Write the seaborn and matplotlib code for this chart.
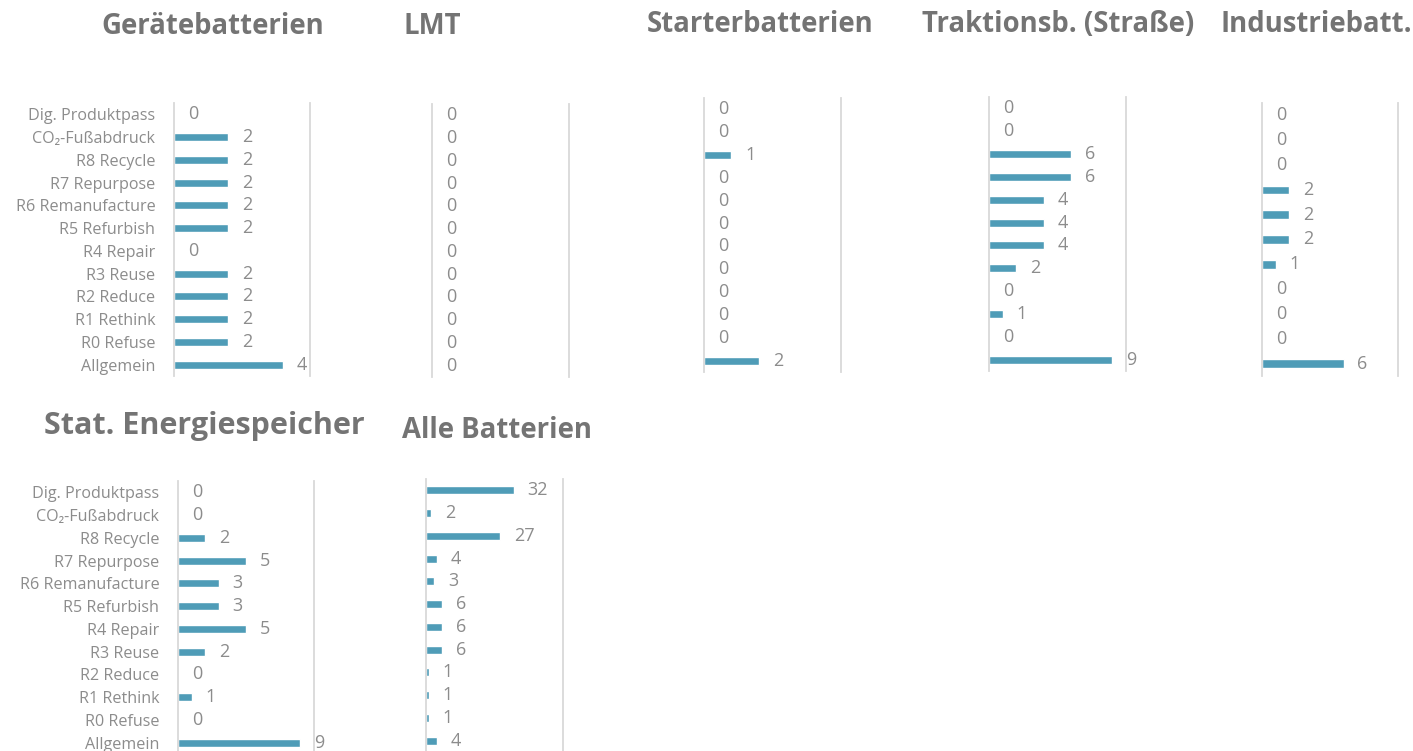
import matplotlib
matplotlib.use("Agg")
import matplotlib.pyplot as plt
import seaborn as sns
import pandas as pd

sns.set_theme(style="white")
plt.rcParams['font.family'] = ['Open Sans', 'DejaVu Sans']

categories = ["Dig. Produktpass", "CO₂-Fußabdruck", "R8 Recycle", "R7 Repurpose",
              "R6 Remanufacture", "R5 Refurbish", "R4 Repair", "R3 Reuse",
              "R2 Reduce", "R1 Rethink", "R0 Refuse", "Allgemein"]
categories_industrie = ["Dig. Produktpass", "R8 Recycle", "R7 Repurpose",
                        "R6 Remanufacture", "R5 Refurbish", "R4 Repair", "R3 Reuse",
                        "R2 Reduce", "R1 Rethink", "R0 Refuse", "Allgemein"]

geraete = [0, 2, 2, 2, 2, 2, 0, 2, 2, 2, 2, 4]
lmt = [0, 0, 0, 0, 0, 0, 0, 0, 0, 0, 0, 0]
starter = [0, 0, 1, 0, 0, 0, 0, 0, 0, 0, 0, 2]
traktion = [0, 0, 6, 6, 4, 4, 4, 2, 0, 1, 0, 9]
industrie = [0, 0, 0, 2, 2, 2, 1, 0, 0, 0, 6]
stationaer = [0, 0, 2, 5, 3, 3, 5, 2, 0, 1, 0, 9]
alle = [32, 2, 27, 4, 3, 6, 6, 6, 1, 1, 1, 4]

titles = ["Gerätebatterien", "LMT", "Starterbatterien", "Traktionsb. (Straße)",
          "Industriebatt.", "Stat. Energiespeicher", "Alle Batterien"]

BAR = "#4F9CB7"
TXT = "#8C8C8C"
TITLE = "#747474"
GRID = "#D9D9D9"

W, H = 1413, 751
fig = plt.figure(figsize=(W / 100, H / 100), dpi=100)

# panel: (values, cats, xmax, show labels, left, right, top, bottom px, title x, title y, title size)
panels = [
    (geraete, categories, 5, True, 174, 310, 103, 376, 213, 27, 19.8),
    (lmt, categories, 1, False, 432, 569, 104, 377, 432, 27, 19.8),
    (starter, categories, 5, False, 704, 841, 98, 372, 760, 24, 19.8),
    (traktion, categories, 10, False, 989, 1126, 97, 371, 1058, 24, 19.8),
    (industrie, categories_industrie, 10, False, 1262, 1398, 103, 376, 1316, 24, 19.8),
    (stationaer, categories, 10, True, 178, 314, 481, 754, 204, 426, 22),
    (alle, categories, 50, False, 426, 563, 479, 752, 497, 431, 19.8),
]

for (vals, cats, xmax, showlab, l, r, t, b, tx, ty, ts), title in zip(panels, titles):
    ax = fig.add_axes([l / W, 1 - b / H, (r - l) / W, (b - t) / H])
    df = pd.DataFrame({"cat": cats, "val": vals})
    sns.barplot(data=df, x="val", y="cat", orient="h", color=BAR, width=0.35,
                saturation=1, ax=ax, order=cats)
    ax.set_xlim(0, xmax)
    ax.set_ylim(len(cats) - 0.5, -0.5)
    ax.set_xlabel("")
    ax.set_ylabel("")
    ax.set_xticks([])
    for sp in ["top", "bottom"]:
        ax.spines[sp].set_visible(False)
    for sp in ["left", "right"]:
        ax.spines[sp].set_visible(True)
        ax.spines[sp].set_color(GRID)
        ax.spines[sp].set_linewidth(1.3)
    ax.tick_params(axis="y", length=0, pad=13.5, labelsize=11.6, labelcolor=TXT)
    if not showlab:
        ax.set_yticklabels([])
    for c in ax.containers:
        ax.bar_label(c, labels=[f"{v:g}" for v in vals], padding=10,
                     fontsize=13, color=TXT)
    fig.text(tx / W, 1 - ty / H, title, ha="center", va="center",
             fontsize=ts, fontweight="bold", color=TITLE)

fig.savefig("out.png", dpi=100)
